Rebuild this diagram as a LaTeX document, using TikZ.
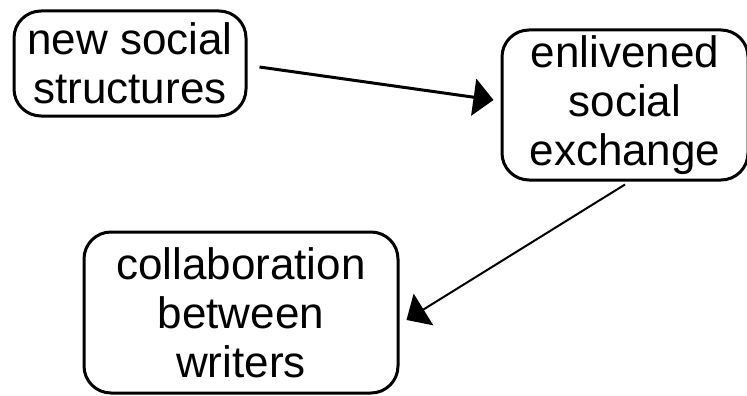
\documentclass[tikz,border=0pt]{standalone}
\usepackage{fontspec}
\setmainfont{Liberation Sans}
\usetikzlibrary{arrows.meta}

\begin{document}
\begin{tikzpicture}[x=1pt, y=-1pt,
	ideaBox/.style={rectangle, rounded corners=27pt, draw=black, line width=3pt, align=center, inner sep=0pt, font=\fontsize{44}{49}\selectfont},
	bigHead/.style={-{Triangle[length=20pt, width=37pt]}}]
		\useasboundingbox (0,0) rectangle (747,396);

		\node[ideaBox, minimum width=232pt, minimum height=105pt](newBox) at (130,63.5){new social\\structures};
		\node[ideaBox, minimum width=246pt, minimum height=150pt](livelyBox) at (625,105){enlivened\\social\\exchange};
		\node[ideaBox, minimum width=314pt, minimum height=161pt](collabBox) at (241,312.5){collaboration\\between\\writers};

		% draw influence edges
		\draw[bigHead, line width=3pt] ([xshift=12pt, yshift=-3.5pt]newBox.east) -- ([xshift=-7pt, yshift=5pt]livelyBox.west);
		\draw[bigHead, line width=2pt] ([yshift=-3pt]livelyBox.south) -- ([xshift=7pt, yshift=-7.5pt]collabBox.east);

	\end{tikzpicture}
\end{document}
